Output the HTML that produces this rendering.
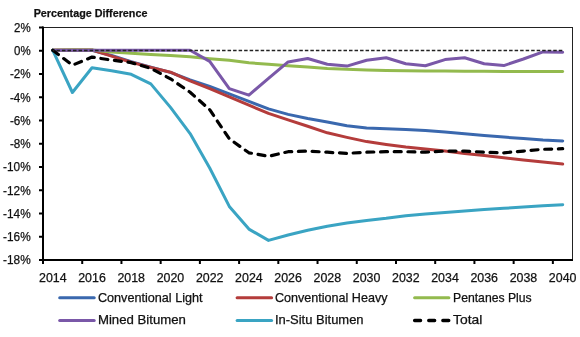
<!DOCTYPE html>
<html><head><meta charset="utf-8"><style>
html,body{margin:0;padding:0;background:#fff;width:580px;height:337px;overflow:hidden}
svg{display:block;will-change:transform}
text{font-family:"Liberation Sans",sans-serif;fill:#111;stroke:#111;stroke-width:0.25px}
.ax{font-size:12.4px}
.lg{font-size:12.4px}
.ti{font-size:11px;font-weight:bold}
</style></head><body>
<svg width="580" height="337" viewBox="0 0 580 337">
<line x1="43" y1="27.5" x2="573" y2="27.5" stroke="#222" stroke-width="1"/>
<line x1="572.5" y1="27" x2="572.5" y2="261" stroke="#222" stroke-width="1"/>
<line x1="39" y1="27.50" x2="43" y2="27.50" stroke="#000" stroke-width="2"/>
<text x="30.7" y="31.80" text-anchor="end" class="ax" textLength="16.62" lengthAdjust="spacingAndGlyphs">2%</text>
<line x1="39" y1="50.75" x2="43" y2="50.75" stroke="#000" stroke-width="2"/>
<text x="30.7" y="55.05" text-anchor="end" class="ax" textLength="16.62" lengthAdjust="spacingAndGlyphs">0%</text>
<line x1="39" y1="74.00" x2="43" y2="74.00" stroke="#000" stroke-width="2"/>
<text x="30.7" y="78.30" text-anchor="end" class="ax" textLength="20.75" lengthAdjust="spacingAndGlyphs">-2%</text>
<line x1="39" y1="97.25" x2="43" y2="97.25" stroke="#000" stroke-width="2"/>
<text x="30.7" y="101.55" text-anchor="end" class="ax" textLength="20.75" lengthAdjust="spacingAndGlyphs">-4%</text>
<line x1="39" y1="120.50" x2="43" y2="120.50" stroke="#000" stroke-width="2"/>
<text x="30.7" y="124.80" text-anchor="end" class="ax" textLength="20.75" lengthAdjust="spacingAndGlyphs">-6%</text>
<line x1="39" y1="143.75" x2="43" y2="143.75" stroke="#000" stroke-width="2"/>
<text x="30.7" y="148.05" text-anchor="end" class="ax" textLength="20.75" lengthAdjust="spacingAndGlyphs">-8%</text>
<line x1="39" y1="167.00" x2="43" y2="167.00" stroke="#000" stroke-width="2"/>
<text x="30.7" y="171.30" text-anchor="end" class="ax" textLength="27.64" lengthAdjust="spacingAndGlyphs">-10%</text>
<line x1="39" y1="190.25" x2="43" y2="190.25" stroke="#000" stroke-width="2"/>
<text x="30.7" y="194.55" text-anchor="end" class="ax" textLength="27.64" lengthAdjust="spacingAndGlyphs">-12%</text>
<line x1="39" y1="213.50" x2="43" y2="213.50" stroke="#000" stroke-width="2"/>
<text x="30.7" y="217.80" text-anchor="end" class="ax" textLength="27.64" lengthAdjust="spacingAndGlyphs">-14%</text>
<line x1="39" y1="236.75" x2="43" y2="236.75" stroke="#000" stroke-width="2"/>
<text x="30.7" y="241.05" text-anchor="end" class="ax" textLength="27.64" lengthAdjust="spacingAndGlyphs">-16%</text>
<line x1="39" y1="260.00" x2="43" y2="260.00" stroke="#000" stroke-width="2"/>
<text x="30.7" y="264.30" text-anchor="end" class="ax" textLength="27.64" lengthAdjust="spacingAndGlyphs">-18%</text>
<line x1="43.00" y1="260" x2="43.00" y2="264" stroke="#000" stroke-width="2"/>
<text x="52.80" y="281.6" text-anchor="middle" class="ax">2014</text>
<line x1="82.22" y1="260" x2="82.22" y2="264" stroke="#000" stroke-width="2"/>
<text x="92.02" y="281.6" text-anchor="middle" class="ax">2016</text>
<line x1="121.44" y1="260" x2="121.44" y2="264" stroke="#000" stroke-width="2"/>
<text x="131.24" y="281.6" text-anchor="middle" class="ax">2018</text>
<line x1="160.66" y1="260" x2="160.66" y2="264" stroke="#000" stroke-width="2"/>
<text x="170.46" y="281.6" text-anchor="middle" class="ax">2020</text>
<line x1="199.88" y1="260" x2="199.88" y2="264" stroke="#000" stroke-width="2"/>
<text x="209.68" y="281.6" text-anchor="middle" class="ax">2022</text>
<line x1="239.10" y1="260" x2="239.10" y2="264" stroke="#000" stroke-width="2"/>
<text x="248.90" y="281.6" text-anchor="middle" class="ax">2024</text>
<line x1="278.32" y1="260" x2="278.32" y2="264" stroke="#000" stroke-width="2"/>
<text x="288.12" y="281.6" text-anchor="middle" class="ax">2026</text>
<line x1="317.54" y1="260" x2="317.54" y2="264" stroke="#000" stroke-width="2"/>
<text x="327.34" y="281.6" text-anchor="middle" class="ax">2028</text>
<line x1="356.76" y1="260" x2="356.76" y2="264" stroke="#000" stroke-width="2"/>
<text x="366.56" y="281.6" text-anchor="middle" class="ax">2030</text>
<line x1="395.98" y1="260" x2="395.98" y2="264" stroke="#000" stroke-width="2"/>
<text x="405.78" y="281.6" text-anchor="middle" class="ax">2032</text>
<line x1="435.20" y1="260" x2="435.20" y2="264" stroke="#000" stroke-width="2"/>
<text x="445.00" y="281.6" text-anchor="middle" class="ax">2034</text>
<line x1="474.42" y1="260" x2="474.42" y2="264" stroke="#000" stroke-width="2"/>
<text x="484.22" y="281.6" text-anchor="middle" class="ax">2036</text>
<line x1="513.64" y1="260" x2="513.64" y2="264" stroke="#000" stroke-width="2"/>
<text x="523.44" y="281.6" text-anchor="middle" class="ax">2038</text>
<line x1="552.86" y1="260" x2="552.86" y2="264" stroke="#000" stroke-width="2"/>
<text x="562.66" y="281.6" text-anchor="middle" class="ax">2040</text>
<polyline points="52.8,50.3 72.4,50.3 92.0,50.3 111.6,55.5 131.2,61.6 150.8,67.2 170.5,72.4 190.1,80.0 209.7,86.4 229.3,93.8 248.9,101.3 268.5,108.9 288.1,114.4 307.7,118.5 327.3,121.9 346.9,125.7 366.6,127.9 386.2,128.7 405.8,129.5 425.4,130.5 445.0,132.1 464.6,133.8 484.2,135.6 503.8,137.1 523.4,138.6 543.0,140.1 562.7,140.9" fill="none" stroke="#3A68AE" stroke-width="3" stroke-linejoin="round" stroke-linecap="round" />
<polyline points="52.8,50.3 72.4,50.1 92.0,50.0 111.6,56.1 131.2,62.2 150.8,67.4 170.5,72.2 190.1,80.8 209.7,88.7 229.3,96.8 248.9,105.1 268.5,113.4 288.1,119.9 307.7,126.3 327.3,132.8 346.9,137.4 366.6,141.6 386.2,144.5 405.8,147.0 425.4,149.0 445.0,151.0 464.6,153.5 484.2,155.5 503.8,157.8 523.4,160.0 543.0,162.0 562.7,164.1" fill="none" stroke="#B43C3B" stroke-width="3" stroke-linejoin="round" stroke-linecap="round" />
<polyline points="52.8,50.3 72.4,49.7 92.0,50.0 111.6,51.9 131.2,53.3 150.8,54.4 170.5,55.4 190.1,56.8 209.7,58.7 229.3,60.3 248.9,62.8 268.5,64.2 288.1,65.7 307.7,67.1 327.3,68.6 346.9,69.3 366.6,70.1 386.2,70.6 405.8,70.8 425.4,70.9 445.0,71.0 464.6,71.2 484.2,71.3 503.8,71.4 523.4,71.5 543.0,71.5 562.7,71.6" fill="none" stroke="#93BA4E" stroke-width="3" stroke-linejoin="round" stroke-linecap="round" />
<line x1="54" y1="49.2" x2="92" y2="49.2" stroke="#C9A46A" stroke-width="1"/>
<polyline points="52.8,50.3 72.4,50.3 92.0,50.3 111.6,50.3 131.2,50.3 150.8,50.3 170.5,50.3 190.1,50.3 209.7,61.4 229.3,88.7 248.9,95.2 268.5,78.3 288.1,61.9 307.7,58.5 327.3,64.3 346.9,66.1 366.6,60.2 386.2,57.8 405.8,63.8 425.4,65.7 445.0,59.6 464.6,57.8 484.2,63.7 503.8,65.6 523.4,59.0 543.0,51.9 562.7,52.3" fill="none" stroke="#7A58A8" stroke-width="3" stroke-linejoin="round" stroke-linecap="round" />
<polyline points="52.8,50.3 72.4,92.5 92.0,67.8 111.6,70.8 131.2,74.3 150.8,83.9 170.5,107.4 190.1,133.6 209.7,168.0 229.3,206.4 248.9,229.1 268.5,240.4 288.1,235.0 307.7,230.3 327.3,226.2 346.9,223.0 366.6,220.4 386.2,218.3 405.8,215.7 425.4,214.0 445.0,212.5 464.6,211.1 484.2,209.6 503.8,208.3 523.4,207.0 543.0,205.8 562.7,204.7" fill="none" stroke="#3AA4C3" stroke-width="3" stroke-linejoin="round" stroke-linecap="round" />
<polyline points="52.8,50.3 72.4,65.2 92.0,57.1 111.6,60.1 131.2,62.6 150.8,68.4 170.5,78.8 190.1,92.2 209.7,109.7 229.3,138.8 248.9,152.8 268.5,156.3 288.1,151.7 307.7,151.1 327.3,152.2 346.9,153.4 366.6,152.2 386.2,151.7 405.8,151.7 425.4,152.2 445.0,151.1 464.6,151.1 484.2,152.2 503.8,152.8 523.4,151.1 543.0,149.3 562.7,148.7" fill="none" stroke="#000" stroke-width="3.2" stroke-dasharray="7.0 6.7" stroke-dashoffset="0" stroke-linecap="round" stroke-linejoin="round"/>
<line x1="52.8" y1="50.5" x2="562.4" y2="50.5" stroke="#222" stroke-width="1.3" stroke-dasharray="3.5 2.02" stroke-dashoffset="1.87"/>
<line x1="43" y1="26.5" x2="43" y2="264" stroke="#000" stroke-width="2"/>
<line x1="39" y1="260" x2="573" y2="260" stroke="#000" stroke-width="2"/>
<text x="33.7" y="16.9" class="ti" textLength="113.7" lengthAdjust="spacingAndGlyphs">Percentage Difference</text>
<line x1="59.7" y1="297.8" x2="94.2" y2="297.8" stroke="#3A68AE" stroke-width="3" stroke-linecap="round"/>
<text x="97.9" y="301.7" class="lg" textLength="104.7" lengthAdjust="spacingAndGlyphs">Conventional Light</text>
<line x1="237.1" y1="297.8" x2="271.6" y2="297.8" stroke="#B43C3B" stroke-width="3" stroke-linecap="round"/>
<text x="274.9" y="301.7" class="lg" textLength="112.6" lengthAdjust="spacingAndGlyphs">Conventional Heavy</text>
<line x1="414.6" y1="297.8" x2="448.9" y2="297.8" stroke="#93BA4E" stroke-width="3" stroke-linecap="round"/>
<text x="453.0" y="301.7" class="lg" textLength="78.7" lengthAdjust="spacingAndGlyphs">Pentanes Plus</text>
<line x1="59.7" y1="320.5" x2="94.2" y2="320.5" stroke="#7A58A8" stroke-width="3" stroke-linecap="round"/>
<text x="97.9" y="324.4" class="lg" textLength="88.0" lengthAdjust="spacingAndGlyphs">Mined Bitumen</text>
<line x1="237.1" y1="320.5" x2="271.6" y2="320.5" stroke="#3AA4C3" stroke-width="3" stroke-linecap="round"/>
<text x="274.9" y="324.4" class="lg" textLength="88.7" lengthAdjust="spacingAndGlyphs">In-Situ Bitumen</text>
<line x1="414.6" y1="320.5" x2="449" y2="320.5" stroke="#000" stroke-width="3.3" stroke-dasharray="6 8.1" stroke-linecap="round"/>
<text x="453.0" y="324.4" class="lg" textLength="29.3" lengthAdjust="spacingAndGlyphs">Total</text>
</svg>
</body></html>
